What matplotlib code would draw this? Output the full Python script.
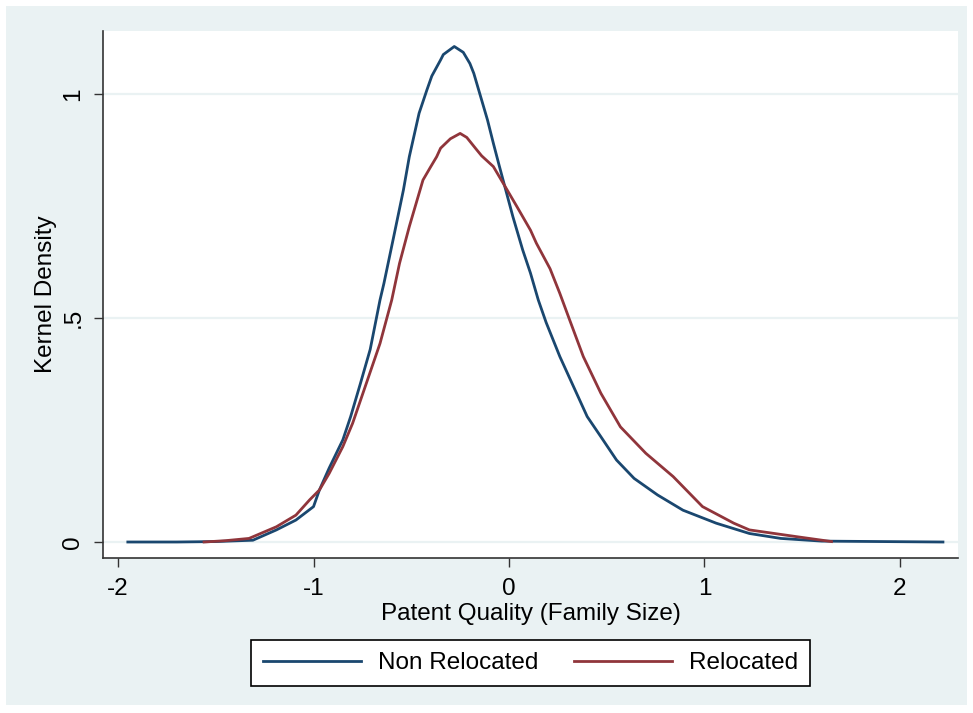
import matplotlib
matplotlib.use("Agg")
import matplotlib.pyplot as plt
from matplotlib.patches import Rectangle

plt.rcParams['font.family'] = ['Liberation Sans', 'DejaVu Sans']

# kernel density curves
non_reloc_x = [-1.95, -1.7, -1.5, -1.31, -1.19, -1.09, -1.0, -0.97, -0.92, -0.85, -0.81, -0.76,
               -0.71, -0.66, -0.64, -0.59, -0.54, -0.51, -0.46, -0.42, -0.395, -0.35, -0.336,
               -0.28, -0.234, -0.2, -0.18, -0.11, -0.08, -0.05, 0.02, 0.07, 0.11, 0.15, 0.19,
               0.26, 0.33, 0.40, 0.47, 0.55, 0.64, 0.76, 0.89, 1.06, 1.23, 1.39, 1.6, 1.9, 2.22]
non_reloc_y = [0.0, 0.0, 0.001, 0.004, 0.027, 0.049, 0.079, 0.116, 0.165, 0.228, 0.28, 0.354,
               0.43, 0.54, 0.577, 0.681, 0.786, 0.86, 0.957, 1.009, 1.040, 1.076, 1.088,
               1.106, 1.093, 1.068, 1.046, 0.942, 0.89, 0.84, 0.726, 0.652, 0.60, 0.54, 0.49,
               0.414, 0.347, 0.28, 0.235, 0.183, 0.142, 0.105, 0.071, 0.042, 0.019, 0.008,
               0.002, 0.001, 0.0]

reloc_x = [-1.56, -1.45, -1.33, -1.19, -1.09, -1.02, -0.97, -0.92, -0.85, -0.80, -0.73,
           -0.66, -0.60, -0.56, -0.51, -0.44, -0.40, -0.37, -0.35, -0.30, -0.25, -0.216,
           -0.17, -0.14, -0.08, -0.03, 0.04, 0.11, 0.14, 0.21, 0.26, 0.31, 0.38, 0.47, 0.57,
           0.70, 0.84, 0.99, 1.15, 1.23, 1.47, 1.65]
reloc_y = [0.0, 0.003, 0.008, 0.034, 0.060, 0.094, 0.116, 0.153, 0.213, 0.265, 0.354,
           0.443, 0.54, 0.622, 0.704, 0.808, 0.838, 0.86, 0.879, 0.900, 0.912, 0.903,
           0.878, 0.862, 0.838, 0.801, 0.749, 0.696, 0.667, 0.61, 0.555, 0.496, 0.414,
           0.332, 0.257, 0.198, 0.146, 0.079, 0.042, 0.027, 0.012, 0.001]

xticks = [-2, -1, 0, 1, 2]
yticks = [0, 0.5, 1]
ytick_labels = ["0", ".5", "1"]

blue = "#1a476f"
red = "#90353b"
bg = "#eaf2f3"
fs = 17.5

fig = plt.figure(figsize=(9.73, 7.13), dpi=100)
fig.patch.set_facecolor("white")
frame = Rectangle((6 / 973, 8 / 713), 961 / 973, 699 / 713,
                  transform=fig.transFigure, facecolor=bg,
                  edgecolor="none", zorder=-10)
fig.patches.append(frame)

ax = fig.add_axes([103 / 973, 155 / 713, 855 / 973, 527 / 713])
ax.set_facecolor("white")

ax.plot(non_reloc_x, non_reloc_y, color=blue, lw=2.0, label="Non Relocated")
ax.plot(reloc_x, reloc_y, color=red, lw=2.0, label="Relocated")

ax.set_xlim(-2.077, 2.297)
ax.set_ylim(-0.0357, 1.1406)
ax.set_xticks(xticks)
ax.set_xticklabels([str(t) for t in xticks])
ax.set_yticks(yticks)
ax.set_yticklabels(ytick_labels, rotation=90, va="center")

ax.grid(axis="y", color=bg, lw=1.6)
ax.set_axisbelow(True)

for s in ["top", "right"]:
    ax.spines[s].set_visible(False)
for s in ["left", "bottom"]:
    ax.spines[s].set_color("#333333")
    ax.spines[s].set_linewidth(1.2)

ax.tick_params(axis="both", direction="out", length=6.5, width=1.0, color="#333333",
               labelsize=fs, labelcolor="black")
ax.tick_params(axis="x", pad=8)
ax.tick_params(axis="y", pad=7)

ax.set_xlabel("Patent Quality (Family Size)", fontsize=fs, labelpad=2)
ax.set_ylabel("Kernel Density", fontsize=fs, labelpad=4)

leg = fig.legend(loc="center", bbox_to_anchor=(530.5 / 973, 50 / 713), ncol=2,
                 fontsize=fs, frameon=True, fancybox=False, framealpha=1,
                 handlelength=4.0, handletextpad=0.7, columnspacing=1.5,
                 borderpad=0.5, borderaxespad=0)
leg.get_frame().set_edgecolor("black")
leg.get_frame().set_linewidth(1.2)
leg.get_frame().set_facecolor("white")

fig.savefig("out.png", dpi=100)
